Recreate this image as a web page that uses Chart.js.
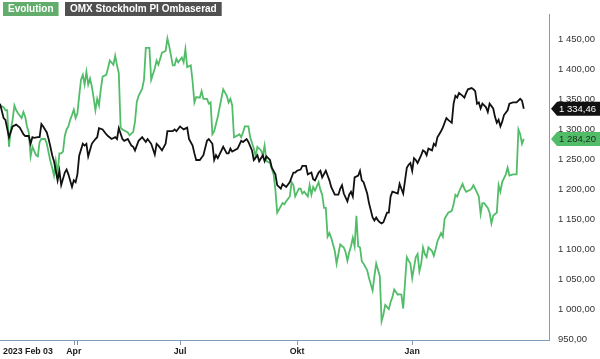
<!DOCTYPE html>
<html><head><meta charset="utf-8">
<script src="https://cdn.jsdelivr.net/npm/chart.js@4"></script>
<style>html,body{margin:0;padding:0;background:#fff;overflow:hidden}#wrap{width:600px;height:359px}canvas{display:block}</style>
</head><body>
<div id="wrap"><canvas id="c" width="600" height="359"></canvas></div>
<script>
const seriesNames = ['Evolution', 'OMX Stockholm PI Ombaserad'];

// trading-day index since 2023 Feb 03
const evoDays = [0,2,3,4,5,6,7,8,9,10,12,13,14,15,16,17,18,20,21,22,23,25,26,28,29,30,31,32,33,34,35,36,37,38,39,40,41,42,43,44,45,46,47,48,49,50,51,52,53,54,55,56,57,59,60,61,63,64,65,66,67,68,71,72,74,75,76,77,79,80,81,83,84,86,87,88,90,92,93,94,96,97,98,99,101,102,103,104,106,107,108,109,111,112,113,115,116,117,118,119,121,122,124,126,127,128,129,130,132,133,134,135,136,138,139,141,142,143,145,146,147,148,150,152,153,154,157,158,159,161,162,163,164,166,167,168,169,171,172,173,174,175,177,178,179,180,181,182,183,184,186,187,188,189,191,192,193,194,195,196,197,198,199,200,201,202,204,205,207,208,209,211,212,213,214,216,217,218,219,221,222,223,224,226,227,228,229,231,232,233,234,235,236,237,238,240,241,242,243,245,246,247,248,249,251,252,253,254,255,257,258,259,261,262,263,264,266,267,268,269,271,272,273,274,275,276,277,278,279,281,282,283,285,286,287,288,289,290,291];
const evoValues = [1340,1337,1332,1332,1271,1300,1316,1340,1332,1327,1319,1329,1321,1305,1295,1255,1271,1257,1255,1279,1284,1284,1276,1247,1236,1223,1247,1225,1260,1260,1263,1289,1300,1305,1316,1324,1333,1319,1327,1356,1383,1391,1375,1396,1375,1385,1372,1353,1332,1351,1340,1367,1388,1391,1402,1415,1408,1423,1407,1394,1303,1300,1295,1290,1296,1313,1346,1356,1368,1383,1436,1436,1383,1402,1415,1408,1428,1431,1452,1439,1407,1407,1418,1412,1420,1412,1434,1404,1407,1380,1345,1354,1353,1364,1351,1351,1343,1345,1292,1297,1321,1337,1367,1356,1345,1351,1340,1287,1290,1292,1287,1295,1305,1305,1287,1268,1255,1271,1265,1257,1273,1247,1244,1225,1199,1161,1177,1175,1180,1188,1212,1207,1188,1201,1201,1193,1196,1188,1207,1191,1204,1198,1212,1199,1191,1169,1169,1121,1127,1119,1097,1076,1092,1108,1103,1095,1081,1095,1105,1119,1105,1156,1105,1103,1080,1076,1065,1052,1031,1055,1076,1055,980,991,1007,1000,1012,1020,1033,1024,1025,1024,1001,1087,1081,1076,1052,1087,1092,1063,1076,1103,1092,1087,1103,1097,1089,1100,1113,1127,1121,1151,1156,1161,1164,1175,1191,1188,1196,1209,1201,1196,1199,1201,1207,1201,1188,1159,1177,1177,1169,1161,1143,1156,1159,1161,1207,1196,1212,1225,1236,1223,1225,1225,1225,1300,1292,1276,1284.20];

const omxDays = [0,2,3,5,7,9,11,13,14,16,17,18,19,21,22,23,24,26,27,28,29,30,31,32,33,34,36,37,38,40,41,42,43,44,46,47,48,49,51,53,54,55,57,59,60,62,64,65,66,68,69,71,73,74,75,77,79,81,82,84,86,87,88,90,92,93,96,97,98,100,102,104,105,107,108,109,111,113,115,116,118,119,120,121,124,126,127,128,129,132,134,135,137,138,140,141,143,144,146,147,148,150,151,153,154,156,157,159,161,163,164,165,167,168,170,171,173,174,175,177,178,179,181,182,183,184,186,188,189,190,191,193,194,195,196,197,199,200,201,202,204,205,207,208,209,210,211,212,213,215,216,217,218,220,221,222,223,224,226,227,228,229,230,231,232,234,235,236,237,238,240,241,242,243,245,246,248,249,251,252,253,254,255,257,258,259,260,262,263,264,265,266,267,268,269,270,271,272,274,275,276,277,278,279,280,282,283,285,287,288,289,290,291];
const omxValues = [1343,1319,1316,1287,1305,1308,1303,1292,1289,1289,1276,1287,1286,1287,1287,1309,1305,1295,1284,1271,1257,1247,1231,1215,1231,1207,1228,1233,1225,1204,1215,1212,1225,1256,1276,1273,1276,1255,1276,1284,1287,1302,1300,1292,1289,1284,1287,1284,1302,1284,1281,1284,1273,1271,1265,1281,1287,1279,1284,1276,1258,1276,1273,1265,1276,1297,1297,1300,1297,1305,1300,1303,1284,1273,1260,1249,1249,1257,1281,1284,1276,1249,1257,1252,1271,1260,1260,1268,1263,1268,1281,1279,1284,1279,1265,1249,1257,1247,1257,1247,1255,1249,1236,1225,1207,1201,1209,1204,1212,1228,1228,1231,1233,1239,1239,1225,1228,1217,1215,1228,1231,1220,1231,1223,1215,1204,1191,1191,1201,1207,1193,1180,1191,1196,1188,1220,1223,1231,1215,1212,1193,1177,1153,1148,1153,1148,1145,1143,1145,1161,1161,1188,1196,1194,1193,1209,1201,1193,1236,1241,1244,1231,1252,1249,1244,1257,1265,1263,1257,1268,1265,1276,1273,1287,1297,1303,1319,1316,1311,1343,1356,1353,1361,1356,1353,1361,1367,1369,1367,1364,1343,1345,1335,1343,1340,1337,1329,1343,1335,1321,1311,1316,1305,1313,1324,1332,1343,1345,1345,1348,1351,1348,1334.46];

const yTickValues = [950,1000,1050,1100,1150,1200,1250,1300,1350,1400,1450];
const xTickDays = [0, 41, 100, 165, 229];
const xTickLabels = ['2023 Feb 03', 'Apr', 'Jul', 'Okt', 'Jan'];
const eventDays = [43];

const GREEN = '#52bd69';
const BLACK = '#111111';
const AXIS = '#7f9cb8';
const FONT = '"Liberation Sans", Arial, Helvetica, sans-serif';

function fmt(v) {
  const s = v.toFixed(2).split('.');
  return s[0].replace(/\B(?=(\d{3})+(?!\d))/g, ' ') + ',' + s[1];
}

const overlay = {
  id: 'overlay',
  afterDraw(chart) {
    const ctx = chart.ctx, xs = chart.scales.x, ys = chart.scales.y, ca = chart.chartArea;
    ctx.save();
    ctx.lineWidth = 1;
    ctx.strokeStyle = AXIS;
    xTickDays.forEach((d, i) => {
      if (i === 0) return;
      const px = Math.round(xs.getPixelForValue(d)) + 0.5;
      ctx.beginPath(); ctx.moveTo(px, ca.bottom); ctx.lineTo(px, ca.bottom + 5); ctx.stroke();
    });
    ctx.strokeStyle = '#e06060';
    eventDays.forEach(d => {
      const px = Math.round(xs.getPixelForValue(d)) + 0.5;
      ctx.beginPath(); ctx.moveTo(px, ca.bottom + 1); ctx.lineTo(px, ca.bottom + 5); ctx.stroke();
    });
    ctx.font = 'bold 8.8px ' + FONT;
    ctx.fillStyle = '#1a1a1a';
    ctx.textBaseline = 'middle';
    xTickDays.forEach((d, i) => {
      const px = xs.getPixelForValue(d);
      if (i === 0) { ctx.textAlign = 'left'; ctx.fillText(xTickLabels[i], 3, 352); }
      else { ctx.textAlign = 'center'; ctx.fillText(xTickLabels[i], px, 352); }
    });
    ctx.font = 'bold 10px ' + FONT;
    ctx.textAlign = 'left';
    const items = [
      { text: seriesNames[0], bg: '#62ad6c', x: 3 },
      { text: seriesNames[1], bg: '#505050', x: 65 }
    ];
    items.forEach(it => {
      const w = ctx.measureText(it.text).width + 10;
      ctx.fillStyle = it.bg;
      ctx.fillRect(it.x, 2, w, 14);
      ctx.fillStyle = '#ffffff';
      ctx.fillText(it.text, it.x + 5, 9.5);
    });
    const badges = [
      { v: omxValues[omxValues.length - 1], bg: BLACK, fg: '#ffffff' },
      { v: evoValues[evoValues.length - 1], bg: GREEN, fg: '#1c2a1c' }
    ];
    ctx.font = '9.5px ' + FONT;
    badges.forEach(b => {
      const y = ys.getPixelForValue(b.v);
      const x0 = ca.right + 2;
      ctx.fillStyle = b.bg;
      ctx.beginPath();
      ctx.moveTo(x0, y);
      ctx.lineTo(x0 + 6, y - 7);
      ctx.lineTo(600, y - 7);
      ctx.lineTo(600, y + 7);
      ctx.lineTo(x0 + 6, y + 7);
      ctx.closePath();
      ctx.fill();
      ctx.fillStyle = b.fg;
      ctx.textAlign = 'left';
      ctx.fillText(fmt(b.v), x0 + 8, y + 0.5);
    });
    ctx.restore();
  }
};

new Chart(document.getElementById('c'), {
  type: 'line',
  data: {
    datasets: [
      {
        label: seriesNames[1],
        data: omxDays.map((d, i) => ({ x: d, y: omxValues[i] })),
        borderColor: BLACK, borderWidth: 1.8, pointRadius: 0, tension: 0
      },
      {
        label: seriesNames[0],
        data: evoDays.map((d, i) => ({ x: d, y: evoValues[i] })),
        borderColor: GREEN, borderWidth: 1.8, pointRadius: 0, tension: 0
      }
    ]
  },
  options: {
    responsive: false,
    animation: false,
    layout: { padding: 0 },
    plugins: { legend: { display: false }, tooltip: { enabled: false } },
    scales: {
      x: {
        type: 'linear', min: 0, max: 305,
        grid: { display: false, drawTicks: false },
        border: { display: true, color: AXIS, width: 1 },
        ticks: { display: false },
        afterFit(s) { s.height = 19; }
      },
      y: {
        position: 'right', min: 948.5, max: 1491.5,
        grid: { display: false, drawTicks: false },
        border: { display: true, color: AXIS, width: 1 },
        afterBuildTicks(s) { s.ticks = yTickValues.map(v => ({ value: v })); },
        ticks: {
          padding: 9,
          color: '#333333',
          font: { family: FONT, size: 9.5 },
          callback: v => fmt(v)
        },
        afterFit(s) { s.width = 51; }
      }
    }
  },
  plugins: [overlay]
});
</script>
</body></html>
